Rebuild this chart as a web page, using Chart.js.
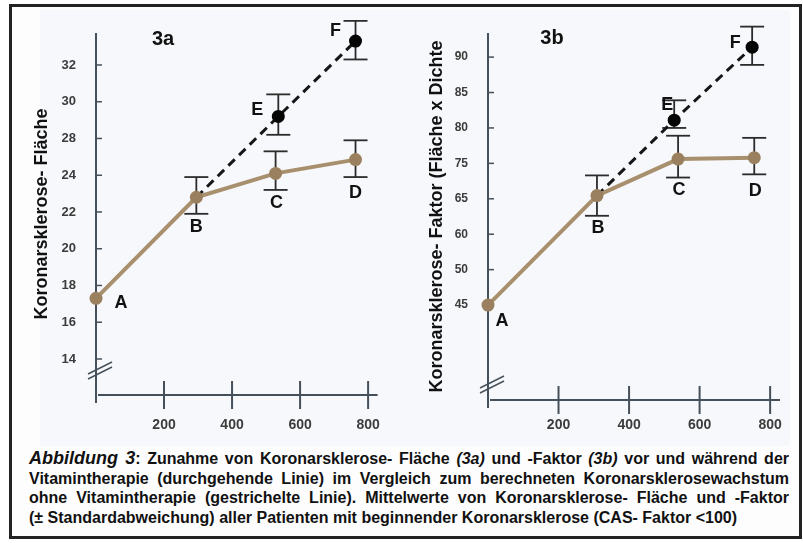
<!DOCTYPE html>
<html>
<head>
<meta charset="utf-8">
<script src="https://cdn.jsdelivr.net/npm/chart.js@4.4.1/dist/chart.umd.min.js"></script>
<style>
  html, body { margin: 0; padding: 0; background: #fff; }
  #frame { position: absolute; left: 9px; top: 4px; width: 793px; height: 535px; box-sizing: border-box;
           border: 3px solid #222; background: #fdfdfe; }
  #plotbg { position: absolute; left: 40px; top: 10px; width: 750px; height: 436px; background: #f7f8fb; }
  .panel { position: absolute; top: 8px; height: 432px; }
  .panel canvas { filter: blur(0.4px); }
  #pa { left: 14px; width: 380px; }
  #pb { left: 404px; width: 390px; }
  #caption { position: absolute; left: 29px; top: 449px; width: 760px; color: #111;
             font: bold 16px "Liberation Sans", Arial, sans-serif; line-height: 19.6px; }
  #caption .j { text-align: justify; text-align-last: justify; }
  #caption .fig { font-style: italic; font-size: 18px; }
</style>
</head>
<body>
<div id="frame"></div>
<div id="plotbg"></div>
<div class="panel" id="pa"><canvas id="chartA"></canvas></div>
<div class="panel" id="pb"><canvas id="chartB"></canvas></div>
<div id="caption">
  <div class="j"><span class="fig">Abbildung 3</span>: Zunahme von Koronarsklerose- Fläche <i>(3a)</i> und -Faktor <i>(3b)</i> vor und während der</div>
  <div class="j">Vitamintherapie (durchgehende Linie) im Vergleich zum berechneten Koronarsklerosewachstum</div>
  <div class="j">ohne Vitamintherapie (gestrichelte Linie). Mittelwerte von Koronarsklerose- Fläche und -Faktor</div>
  <div>(± Standardabweichung) aller Patienten mit beginnender Koronarsklerose (CAS- Faktor &lt;100)</div>
</div>
<script>
// x axis (both panels)
const xTicks = [200, 400, 600, 800];

// 3a: Koronarsklerose-Fläche (tick labels as printed)
const ticksA = [14, 16, 18, 20, 22, 24, 28, 30, 32];
const daysMitA = [0, 295, 528, 763];
const flaecheMit = [17.3, 22.8, 24.2, 25.7];
const flaecheMitLo = [null, 21.9, 23.2, 23.9];
const flaecheMitHi = [null, 23.9, 26.6, 27.8];
const daysOhneA = [295, 536, 763];
const flaecheOhne = [22.8, 29.2, 33.3];
const flaecheOhneLo = [null, 28.2, 32.3];
const flaecheOhneHi = [null, 30.4, 34.4];

// 3b: Koronarsklerose-Faktor (tick labels as printed)
const ticksB = [45, 50, 60, 65, 75, 80, 85, 90];
const daysMitB = [0, 309, 539, 755];
const faktorMit = [45.0, 65.9, 75.6, 75.8];
const faktorMitLo = [null, 62.6, 71.0, 71.9];
const faktorMitHi = [null, 71.6, 78.9, 78.6];
const daysOhneB = [309, 528, 749];
const faktorOhne = [65.9, 81.1, 91.4];
const faktorOhneLo = [null, 80.0, 88.9];
const faktorOhneHi = [null, 83.9, 94.3];

const lettersMit = ["A", "B", "C", "D"];
const lettersOhne = ["", "E", "F"];

// printed axis is not evenly numbered: place values between the printed ticks
function toAxis(v, ticks) {
    let i = 0;
    while (i < ticks.length - 2 && v > ticks[i + 1]) i++;
    return i + (v - ticks[i]) / (ticks[i + 1] - ticks[i]);
}

const FONT = "'Liberation Sans', Arial, sans-serif";

const scanPlugin = {
    id: "scan",
    beforeDatasetsDraw(chart, args, opts) {
        const { ctx, chartArea: a, scales: { x, y } } = chart;
        const line = (x1, y1, x2, y2) => { ctx.beginPath(); ctx.moveTo(x1, y1); ctx.lineTo(x2, y2); ctx.stroke(); };
        ctx.save();
        ctx.strokeStyle = "#46505a";
        ctx.lineWidth = 2;
        line(a.left, a.top, a.left, a.bottom + 8);
        line(a.left + 2, a.bottom, a.right, a.bottom);
        ctx.lineWidth = 1.5;
        y.ticks.forEach(t => { const py = y.getPixelForValue(t.value); line(a.left, py, a.left + 6, py); });
        ctx.lineWidth = 2;
        x.ticks.forEach(t => { const px = x.getPixelForValue(t.value); line(px, a.bottom - 14, px, a.bottom + 14); });
        // axis break
        ctx.lineWidth = 1.5;
        const bx = a.left + 4, by = a.bottom - opts.breakAbove;
        line(bx - 12, by + 4, bx + 12, by - 8);
        line(bx - 12, by + 9, bx + 12, by - 3);
        // error bars
        ctx.strokeStyle = "#2b2b2b";
        ctx.lineWidth = 1.8;
        chart.data.datasets.forEach(ds => {
            if (!ds.errLo) return;
            ds.data.forEach((p, i) => {
                if (ds.errLo[i] == null) return;
                const px = x.getPixelForValue(p.x);
                const top = y.getPixelForValue(toAxis(ds.errHi[i], opts.ticks));
                const bot = y.getPixelForValue(toAxis(ds.errLo[i], opts.ticks));
                line(px, top, px, bot);
                line(px - 12, top, px + 12, top);
                line(px - 12, bot, px + 12, bot);
            });
        });
        ctx.restore();
    },
    afterDatasetsDraw(chart, args, opts) {
        const { ctx, scales: { x, y } } = chart;
        ctx.save();
        ctx.fillStyle = "#111";
        ctx.textAlign = "center";
        ctx.textBaseline = "middle";
        ctx.font = "bold 18px " + FONT;
        chart.data.datasets.forEach(ds => {
            ds.data.forEach((p, i) => {
                const t = ds.letters[i];
                if (!t) return;
                const off = ds.letterOffsets[i];
                ctx.fillText(t, x.getPixelForValue(p.x) + off[0], y.getPixelForValue(p.y) + off[1]);
            });
        });
        ctx.font = "bold 20px " + FONT;
        ctx.fillText(opts.panel, opts.panelPos[0], opts.panelPos[1]);
        ctx.restore();
    }
};

function makePanel(id, p) {
    const pts = (xs, ys) => xs.map((v, i) => ({ x: v, y: toAxis(ys[i], p.ticks) }));
    return new Chart(document.getElementById(id), {
        type: "line",
        data: {
            datasets: [{
                data: pts(p.daysMit, p.mit),
                errLo: p.mitLo, errHi: p.mitHi,
                letters: lettersMit, letterOffsets: p.offMit,
                borderColor: "#a88f6d",
                borderWidth: 4,
                pointRadius: 6.5,
                pointBackgroundColor: "#9b805f",
                pointBorderWidth: 0,
                clip: false
            }, {
                data: pts(p.daysOhne, p.ohne),
                errLo: p.ohneLo, errHi: p.ohneHi,
                letters: lettersOhne, letterOffsets: p.offOhne,
                borderColor: "#161616",
                borderWidth: 3,
                borderDash: [9, 6],
                pointRadius: [0, 6.5, 6.5],
                pointBackgroundColor: "#050505",
                pointBorderWidth: 0,
                clip: false
            }]
        },
        options: {
            responsive: true,
            maintainAspectRatio: false,
            animation: false,
            layout: { padding: { left: 0, top: 25, right: p.padRight, bottom: 0 } },
            plugins: {
                legend: { display: false },
                tooltip: { enabled: false },
                scan: { ticks: p.ticks, breakAbove: p.breakAbove, panel: p.panel, panelPos: p.panelPos }
            },
            scales: {
                x: {
                    type: "linear",
                    min: 0,
                    max: 828,
                    afterBuildTicks: s => { s.ticks = xTicks.map(v => ({ value: v })); },
                    afterFit: s => { s.height = p.xHeight; },
                    grid: { display: false },
                    border: { display: false },
                    ticks: { padding: p.xPad, color: "#3c3c3c", font: { family: FONT, size: 14, weight: "bold" } }
                },
                y: {
                    type: "linear",
                    min: p.yMin,
                    max: p.yMax,
                    afterBuildTicks: s => { s.ticks = p.ticks.map((_, i) => ({ value: i })); },
                    afterFit: s => { s.width = p.yWidth; },
                    grid: { display: false },
                    border: { display: false },
                    ticks: {
                        autoSkip: false,
                        padding: 12,
                        color: "#3c3c3c",
                        font: { family: FONT, size: p.yFont, weight: "bold" },
                        callback: (v, i) => p.ticks[i]
                    },
                    title: {
                        display: true,
                        text: p.title,
                        color: "#111",
                        font: { family: FONT, size: 18, weight: "bold" },
                        padding: { top: p.titlePad, bottom: 0 }
                    }
                }
            }
        },
        plugins: [scanPlugin]
    });
}

makePanel("chartA", {
    ticks: ticksA, daysMit: daysMitA, mit: flaecheMit, mitLo: flaecheMitLo, mitHi: flaecheMitHi,
    daysOhne: daysOhneA, ohne: flaecheOhne, ohneLo: flaecheOhneLo, ohneHi: flaecheOhneHi,
    offMit: [[25, 5], [0, 30], [1, 30], [0, 33]],
    offOhne: [[0, 0], [-21, -6], [-20, -10]],
    title: "Koronarsklerose- Fläche", titlePad: 17,
    yMin: -0.98, yMax: 8.87, yWidth: 82, yFont: 13,
    xHeight: 45, xPad: 14, padRight: 6,
    breakAbove: 25, panel: "3a", panelPos: [149, 31]
});

makePanel("chartB", {
    ticks: ticksB, daysMit: daysMitB, mit: faktorMit, mitLo: faktorMitLo, mitHi: faktorMitHi,
    daysOhne: daysOhneB, ohne: faktorOhne, ohneLo: faktorOhneLo, ohneHi: faktorOhneHi,
    offMit: [[14, 16], [1, 32], [1, 31], [1, 33]],
    offOhne: [[0, 0], [-7, -15], [-17, -4]],
    title: "Koronarsklerose- Faktor (Fläche x Dichte", titlePad: 22,
    yMin: -2.68, yMax: 7.68, yWidth: 84, yFont: 12,
    xHeight: 40, xPad: 9, padRight: 14,
    breakAbove: 16, panel: "3b", panelPos: [148, 30]
});
</script>
</body>
</html>
